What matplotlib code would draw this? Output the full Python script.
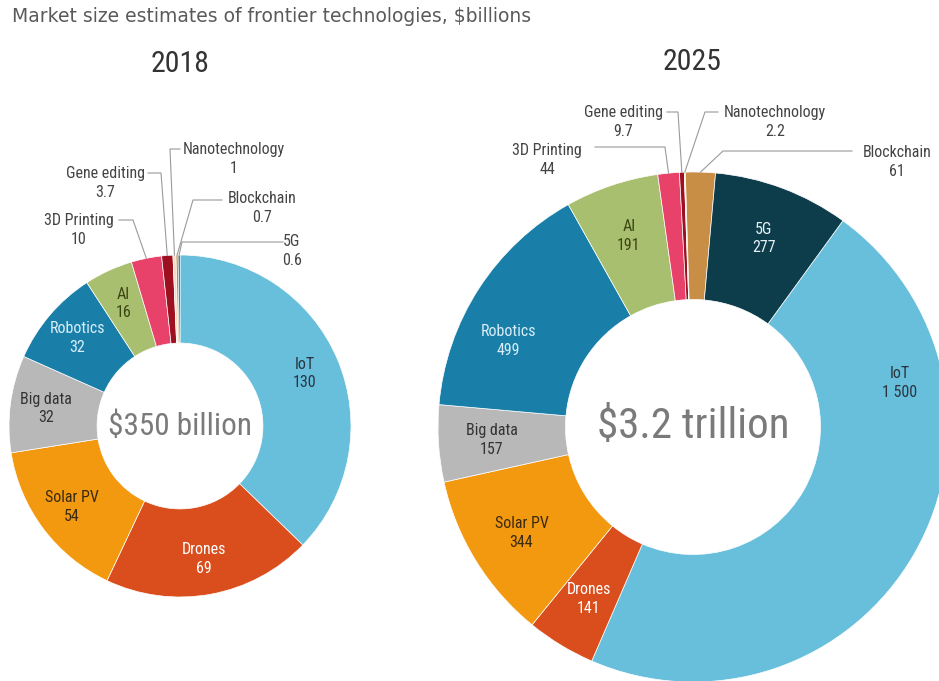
import matplotlib
matplotlib.use("Agg")
import matplotlib.pyplot as plt
import numpy as np

W, H = 939, 681

techs = ["IoT", "Drones", "Solar PV", "Big data", "Robotics", "AI",
         "3D Printing", "Gene editing", "Nanotechnology", "Blockchain", "5G"]
size_2018 = [130, 69, 54, 32, 32, 16, 10, 3.7, 1, 0.7, 0.6]
size_2025 = [1500, 141, 344, 157, 499, 191, 44, 9.7, 2.2, 61, 277]
text_2018 = ["130", "69", "54", "32", "32", "16", "10", "3.7", "1", "0.7", "0.6"]
text_2025 = ["1 500", "141", "344", "157", "499", "191", "44", "9.7", "2.2", "61", "277"]

colors = ["#68bfdc", "#d94e1c", "#f2990f", "#b8b8b8", "#197ea8", "#a9bf70",
          "#e8416a", "#9c1020", "#f3dcc4", "#c98e45", "#0d3c4b"]
label_colors = ["#2b3440", "white", "#3a2a10", "#333333", "#d8eef8", "#3b4512",
                "#333", "#333", "#333", "#333", "#e6f0f4"]

narrow = ["Roboto Condensed", "Roboto", "DejaVu Sans"]
grey = "#444444"
line_grey = "#9a9a9a"


def Y(y):
    # layout below is written top-down in pixels
    return H - y


fig = plt.figure(figsize=(W / 100, H / 100), dpi=100)
ax = fig.add_axes([0, 0, 1, 1])
ax.set_xlim(0, W)
ax.set_ylim(0, H)
ax.set_aspect("equal")
ax.axis("off")


def donut(values, texts, cx, cy, r, hole, start, inside, overrides, outside):
    cy = Y(cy)
    wedges, _ = ax.pie(values, colors=colors, startangle=start, counterclock=False,
                       radius=r, center=(cx, cy), frame=True,
                       wedgeprops=dict(width=r * (1 - hole), edgecolor="white", linewidth=0.5))
    for i, w in enumerate(wedges):
        mid = np.deg2rad((w.theta1 + w.theta2) / 2)
        if i in inside:
            ang, rr = overrides.get(i, (mid, 0.79))
            tx = cx + r * rr * np.cos(ang)
            ty = cy + r * rr * np.sin(ang)
            ax.text(tx, ty, techs[i] + "\n" + texts[i], ha="center", va="center",
                    fontsize=11.5, color=label_colors[i], family=narrow, linespacing=1.3)
        if i in outside:
            (lx, ly), path = outside[i]
            ax.text(lx, Y(ly), techs[i] + "\n" + texts[i], ha="center", va="center",
                    fontsize=11.5, color=grey, family=narrow, linespacing=1.3)
            ex = cx + r * np.cos(mid)
            ey = cy + r * np.sin(mid)
            xs = [p[0] for p in path] + [ex]
            ys = [Y(p[1]) for p in path] + [ey]
            ax.plot(xs, ys, color=line_grey, lw=0.8)
    return wedges


# 2018
donut(size_2018, text_2018, 180, 426, 171, 0.485, 90,
      inside=range(6), overrides={},
      outside={
          6: ((79, 230), [(119, 220), (133, 220)]),
          7: ((105, 183), [(148, 173), (161, 173)]),
          8: ((234, 159), [(180, 149), (170, 149)]),
          9: ((262, 208), [(222, 200), (193, 200)]),
          10: ((292, 251), [(283, 242), (182, 242)]),
      })
ax.text(180, Y(426), "$350 billion", ha="center", va="center",
        fontsize=22.5, color="#7a7a7a", family=narrow)
ax.text(180, Y(64), "2018", ha="center", va="center", fontsize=21.5,
        color="#333333", family=narrow)

# 2025
donut(size_2025, text_2025, 693, 427, 255, 0.5, 54,
      inside=[0, 1, 2, 3, 4, 5, 10],
      overrides={0: (np.deg2rad(12), 0.83), 4: (np.deg2rad(155), 0.8)},
      outside={
          6: ((547, 160), [(595, 147), (665, 147)]),
          7: ((623, 122), [(667, 112), (678, 112)]),
          8: ((775, 122), [(718, 112), (705, 112)]),
          9: ((897, 162), [(852, 151), (723, 151)]),
      })
ax.text(693, Y(427), "$3.2 trillion", ha="center", va="center",
        fontsize=31, color="#7a7a7a", family=narrow)
ax.text(692, Y(62), "2025", ha="center", va="center", fontsize=21.5,
        color="#333333", family=narrow)

ax.set_xlim(0, W)
ax.set_ylim(0, H)

ax.text(12, Y(16), "Market size estimates of frontier technologies, $billions",
        ha="left", va="center", fontsize=13.5, color="#5a5a5a", family="DejaVu Sans")

fig.savefig("out.png", dpi=100, facecolor="white")
